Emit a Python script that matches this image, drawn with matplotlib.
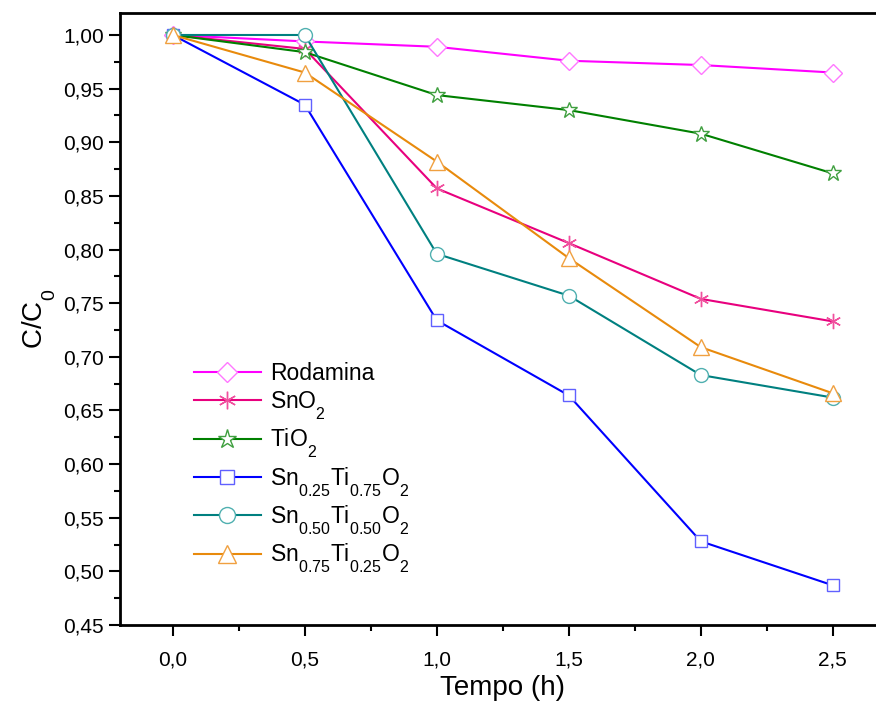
import matplotlib.pyplot as plt
import matplotlib._mathtext as mt
from matplotlib.ticker import MultipleLocator, FuncFormatter

plt.rcParams['font.family'] = ['Liberation Sans', 'DejaVu Sans']
plt.rcParams['mathtext.fontset'] = 'custom'
plt.rcParams['mathtext.rm'] = 'Liberation Sans'
plt.rcParams['mathtext.it'] = 'Liberation Sans:italic'
# subscritos mais baixos, como no original
mt.FontConstantsBase.sub1 = 0.9

# dados
tempo = [0.0, 0.5, 1.0, 1.5, 2.0, 2.5]
rodamina = [1.000, 0.994, 0.989, 0.976, 0.972, 0.965]
sno2 = [1.000, 0.987, 0.857, 0.806, 0.754, 0.733]
tio2 = [1.000, 0.984, 0.944, 0.930, 0.908, 0.871]
sn25 = [1.000, 0.935, 0.734, 0.664, 0.528, 0.487]
sn50 = [1.000, 1.000, 0.796, 0.757, 0.683, 0.662]
sn75 = [1.000, 0.965, 0.882, 0.792, 0.709, 0.666]

nomes = ['Rodamina', r'SnO$_\mathregular{2}$', r'TiO$_\mathregular{2}$',
         r'Sn$_\mathregular{0.25}$Ti$_\mathregular{0.75}$O$_\mathregular{2}$',
         r'Sn$_\mathregular{0.50}$Ti$_\mathregular{0.50}$O$_\mathregular{2}$',
         r'Sn$_\mathregular{0.75}$Ti$_\mathregular{0.25}$O$_\mathregular{2}$']
series = [rodamina, sno2, tio2, sn25, sn50, sn75]
cores = ['#ff00ff', '#e8007e', '#008000', '#0000ff', '#008080', '#e88a0c']
cores_marc = ['#ff77ff', '#f0509e', '#40a040', '#6060ff', '#50b0b0', '#f0a040']
marcadores = ['D', (6, 2, 0), '*', 's', 'o', '^']
tamanhos = [9, 11, 12, 9, 10, 11]

fig = plt.figure(figsize=(8.76, 7.09), dpi=100)
ax = fig.add_axes([120/876, 1-625/709, 765.6/876, 612/709])

for y, nome, c, cm, m, s in zip(series, nomes, cores, cores_marc, marcadores, tamanhos):
    ax.plot(tempo, y, color=c, linewidth=1.5, marker=m, markersize=s,
            markerfacecolor='white', markeredgecolor=cm, markeredgewidth=1.0,
            label=nome)

ax.set_xlim(-0.2, 2.7)
ax.set_ylim(0.45, 1.0205)
ax.xaxis.set_major_locator(MultipleLocator(0.5))
ax.xaxis.set_minor_locator(MultipleLocator(0.25))
ax.yaxis.set_major_locator(MultipleLocator(0.05))
ax.yaxis.set_minor_locator(MultipleLocator(0.025))
ax.xaxis.set_major_formatter(FuncFormatter(lambda v, p: ('%.1f' % v).replace('.', ',')))
ax.yaxis.set_major_formatter(FuncFormatter(lambda v, p: ('%.2f' % v).replace('.', ',')))
ax.tick_params(which='major', direction='out', length=8, width=1.5, labelsize=15)
ax.tick_params(which='minor', direction='out', length=4, width=1.5)
ax.tick_params(axis='x', pad=10)
for sp in ax.spines.values():
    sp.set_linewidth(2)

ax.set_xlabel('Tempo (h)', fontsize=20, labelpad=4)
ax.set_ylabel(r'C/C$_\mathregular{0}$', fontsize=20, labelpad=4)

ax.legend(loc='upper left', bbox_to_anchor=(0.085, 0.445), frameon=False,
          fontsize=16.5, handlelength=2.9, labelspacing=0.2, borderaxespad=0,
          handletextpad=0.4, markerscale=1.15)

fig.savefig('out.png', dpi=100)
